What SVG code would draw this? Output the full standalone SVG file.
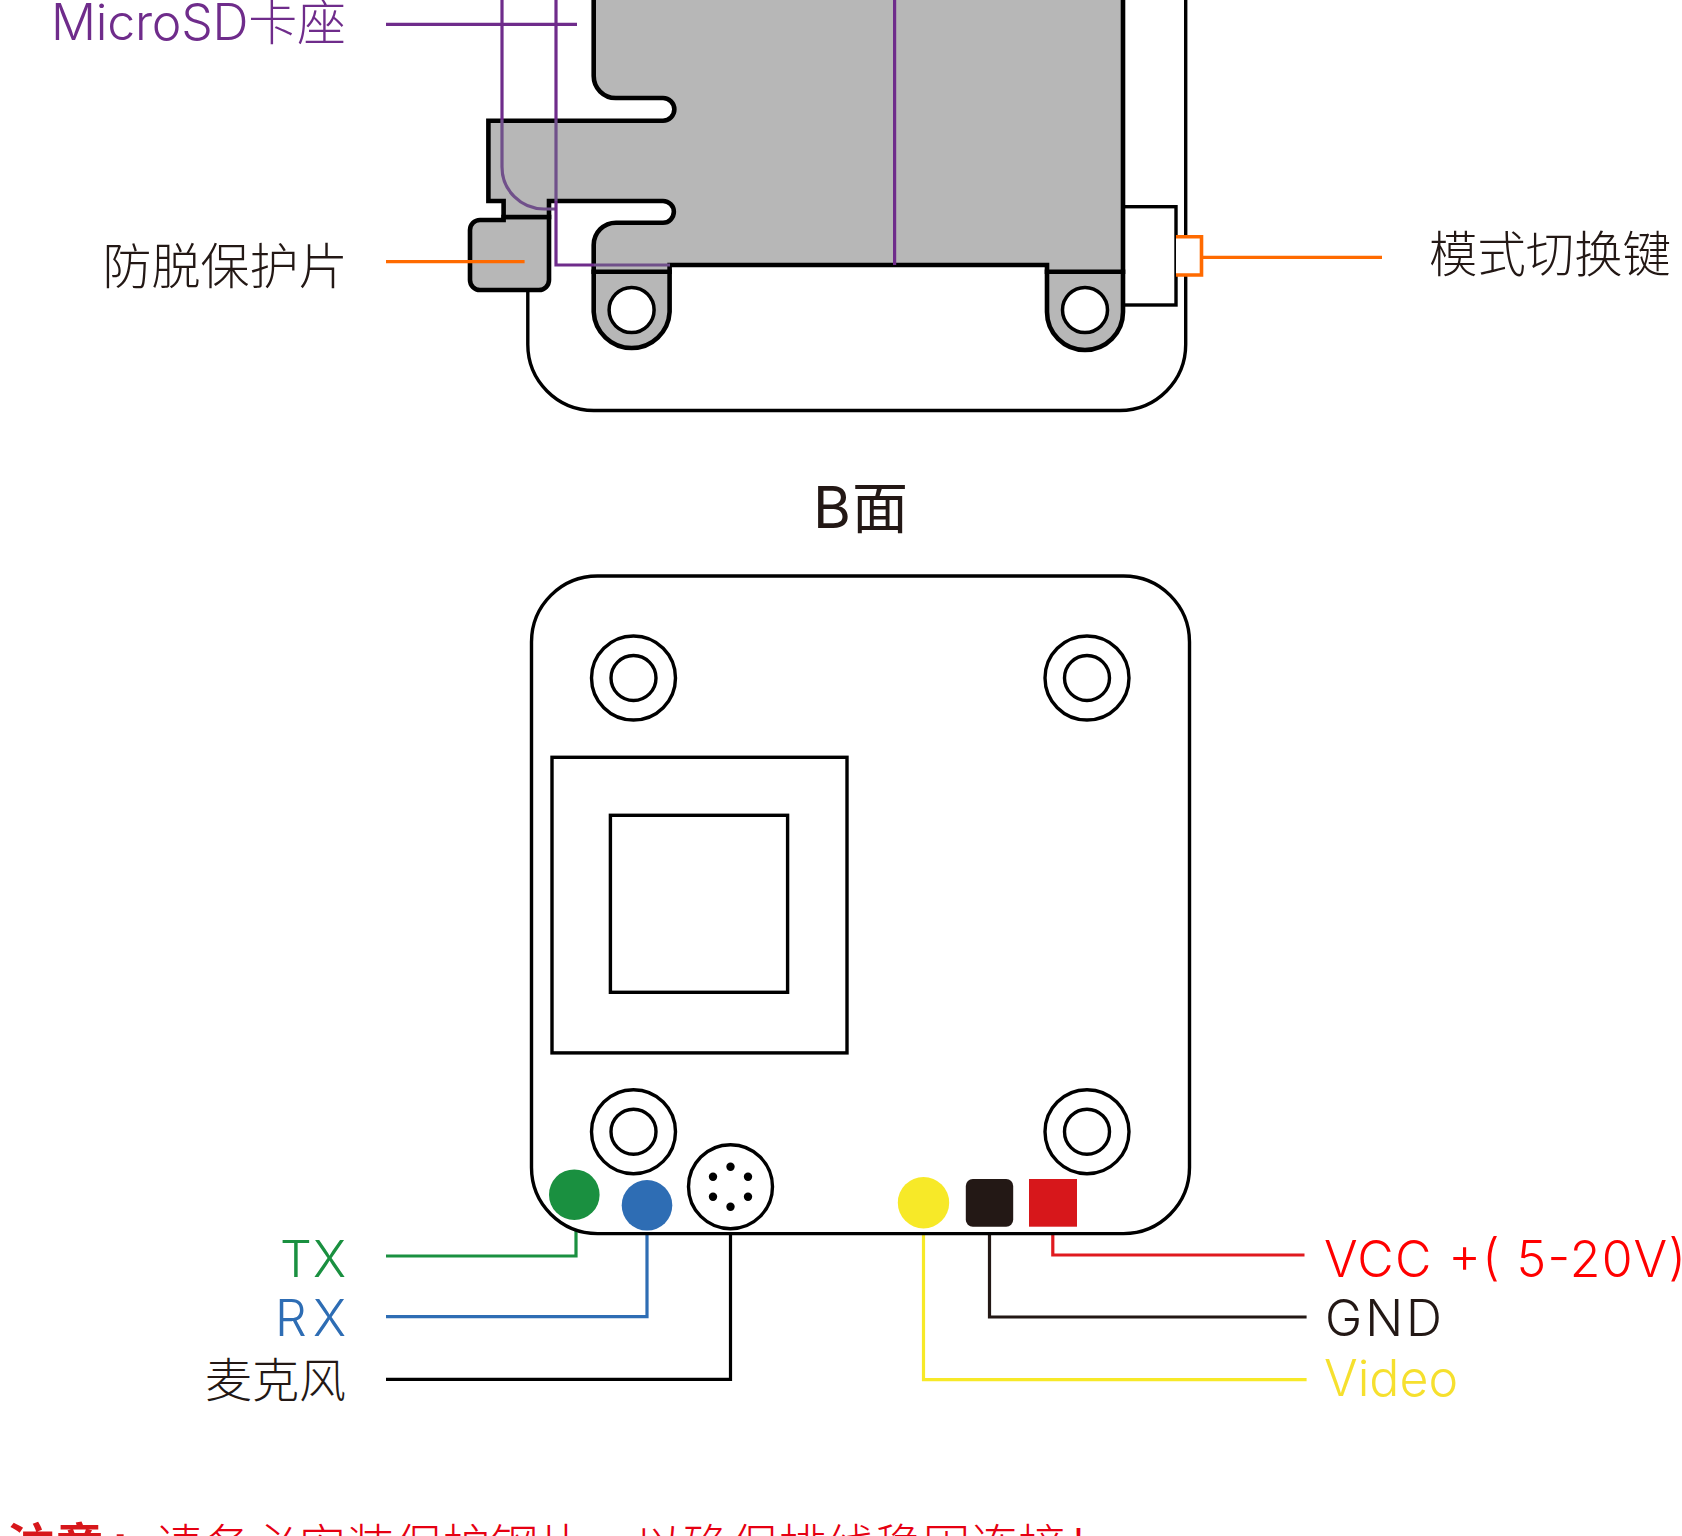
<svg xmlns="http://www.w3.org/2000/svg" width="1682" height="1536" viewBox="0 0 1682 1536">
<style>
.bd{fill:#fff;stroke:#000;stroke-width:3.4}
.gr{fill:#b7b7b7;stroke:#000;stroke-width:4.6;stroke-linejoin:miter}
.ln{fill:none;stroke-width:3.2}
.pu{stroke:#6f2c8b}.pm{stroke:#70508a}.or{stroke:#ff6a00}
.lbl{font-family:"Inter","Noto Sans CJK SC",sans-serif;font-weight:300;font-size:50px}
.cjk{font-family:"Noto Sans CJK SC",sans-serif;font-weight:300;font-size:49px}
.e{text-anchor:end}
</style>
<rect width="1682" height="1536" fill="#fff"/>
<g id="board-a">
<path class="bd" d="M527.8,270V344A66,66 0 0 0 593.8,410.5H1119.7A66,66 0 0 0 1185.7,344V-5"/>
<rect class="bd" x="1123" y="206.7" width="53" height="98.3"/>
</g>
<g id="mode-switch">
<path d="M1176,236.7H1201.5V275H1176Z" fill="#fff"/>
<path class="ln or" style="stroke-width:3.6" d="M1176,236.7H1201.5V275H1176"/>
</g>
<g id="tab-left">
<path class="gr" d="M593.7,271.7V312A38,38 0 0 0 669.6,312V271.7Z"/>
<circle cx="631.6" cy="310" r="22.5" fill="#fff" stroke="#000" stroke-width="3.5"/>
</g>
<g id="tab-right">
<path class="gr" d="M1047,271.7V312A38,38 0 0 0 1123,312V271.7Z"/>
<circle cx="1085" cy="310" r="22.5" fill="#fff" stroke="#000" stroke-width="3.5"/>
</g>
<g id="protector">
<path class="gr" d="M503.6,220H480A10,10 0 0 0 470,230V280A10,10 0 0 0 480,290H539A10,10 0 0 0 549,280V217H503.6Z"/>
</g>
<g id="module-body">
<path class="gr" d="M593.7,-6V76A22,22 0 0 0 615.7,98H663A11.3,11.3 0 0 1 663,120.7H488.4V201H503.6V217H549V201H663A10.85,10.85 0 0 1 663,222.7H616A22.3,22.3 0 0 0 593.7,245V271.7H669.6V265H1047V271.7H1123V-6Z"/>
</g>
<g id="connectors">
<path class="ln pu" d="M386,24.3H577"/>
<path class="ln pu" d="M502,0V120"/>
<path class="ln pm" d="M502,120V167A42,42 0 0 0 544,209H556"/>
<path class="ln pu" d="M556,0V120"/>
<path class="ln pm" d="M556,120V201"/>
<path class="ln pu" d="M556,201V265H594"/>
<path class="ln pm" d="M594,265H670"/>
<path class="ln pu" d="M894.6,0V265"/>
<path class="ln or" d="M386,261.7H524.6"/>
<path class="ln or" d="M1201.5,257.3H1382"/>
<path class="ln" stroke="#1a9040" d="M386,1256H576V1218"/>
<path class="ln" stroke="#2e6db4" d="M386,1316.7H647V1228"/>
<path class="ln" stroke="#000" d="M386,1379.3H730.5V1228"/>
<path class="ln" stroke="#f7e928" d="M1306.6,1379.7H923.5V1226"/>
<path class="ln" stroke="#231815" d="M1306.6,1317H989.5V1226"/>
<path class="ln" stroke="#e01a1f" d="M1304.5,1255H1052.8V1226"/>
</g>
<g id="board-b">
<rect class="bd" x="531.5" y="576" width="658" height="657.6" rx="66" ry="66"/>
<circle class="bd" cx="633.5" cy="678" r="42"/><circle class="bd" cx="633.5" cy="678" r="22.5"/>
<circle class="bd" cx="1087" cy="678" r="42"/><circle class="bd" cx="1087" cy="678" r="22.5"/>
<circle class="bd" cx="633.5" cy="1131.7" r="42"/><circle class="bd" cx="633.5" cy="1131.7" r="22.5"/>
<circle class="bd" cx="1087" cy="1131.7" r="42"/><circle class="bd" cx="1087" cy="1131.7" r="22.5"/>
<rect class="bd" x="552" y="757.3" width="295" height="295.6"/>
<rect class="bd" x="610.4" y="815.3" width="177.2" height="177"/>
</g>
<g id="tx-pad"><circle cx="574.3" cy="1194.7" r="25.3" fill="#1a9040"/></g>
<g id="rx-pad"><circle cx="647" cy="1205.3" r="25.3" fill="#2e6db4"/></g>
<g id="mic">
<circle class="bd" cx="730.5" cy="1186.7" r="42"/>
<circle cx="730.5" cy="1166.7" r="4.2"/><circle cx="748" cy="1176.7" r="4.2"/><circle cx="748" cy="1196.7" r="4.2"/>
<circle cx="730.5" cy="1206.7" r="4.2"/><circle cx="713" cy="1196.7" r="4.2"/><circle cx="713" cy="1176.7" r="4.2"/>
</g>
<g id="video-pad"><circle cx="923.5" cy="1202.7" r="25.7" fill="#f7e928"/></g>
<g id="gnd-pad"><rect x="965.8" y="1179" width="47.4" height="47.7" rx="7" fill="#231815"/></g>
<g id="vcc-pad"><rect x="1029" y="1179" width="48" height="47.7" fill="#d7171b"/></g>
<g id="labels">
<text class="lbl" x="51" y="40" fill="#6f2c8b" textLength="295" lengthAdjust="spacing">MicroSD<tspan style="font-family:'Noto Sans CJK SC',sans-serif;font-size:49px">卡座</tspan></text>
<text class="cjk e" x="347.5" y="284" fill="#231815">防脱保护片</text>
<text class="cjk" x="1429" y="272" style="font-size:48.4px" fill="#231815">模式切换键</text>
<text x="813" y="528" fill="#231815" style="font-family:Inter,'Noto Sans CJK SC',sans-serif;font-size:58px;font-weight:400">B<tspan x="852" style="font-family:'Noto Sans CJK SC',sans-serif;font-size:56px">面</tspan></text>
<text class="lbl" x="280" y="1276.7" fill="#1a9040" textLength="66" lengthAdjust="spacing">TX</text>
<text class="lbl" x="275" y="1336" fill="#2e6db4" textLength="71" lengthAdjust="spacing">RX</text>
<text class="cjk e" x="346" y="1397" style="font-size:47px" fill="#231815">麦克风</text>
<text class="lbl" x="1324" y="1276.7" fill="#ff0000" textLength="362" lengthAdjust="spacing">VCC +( 5-20V)</text>
<text class="lbl" x="1325" y="1336" fill="#231815" textLength="117" lengthAdjust="spacing">GND</text>
<text class="lbl" x="1324" y="1396" fill="#f6e02e">Video</text>
<text class="cjk" x="6" y="1564" fill="#d7171b" style="font-weight:700;font-size:49px">注意<tspan x="112" y="1559" style="font-family:'Liberation Sans',sans-serif">:</tspan></text>
<text class="cjk" x="154.5" y="1564" fill="#e60012" style="font-size:48px">请务必安装保护钢片，以确保排线稳固连接！</text>
</g>
</svg>
